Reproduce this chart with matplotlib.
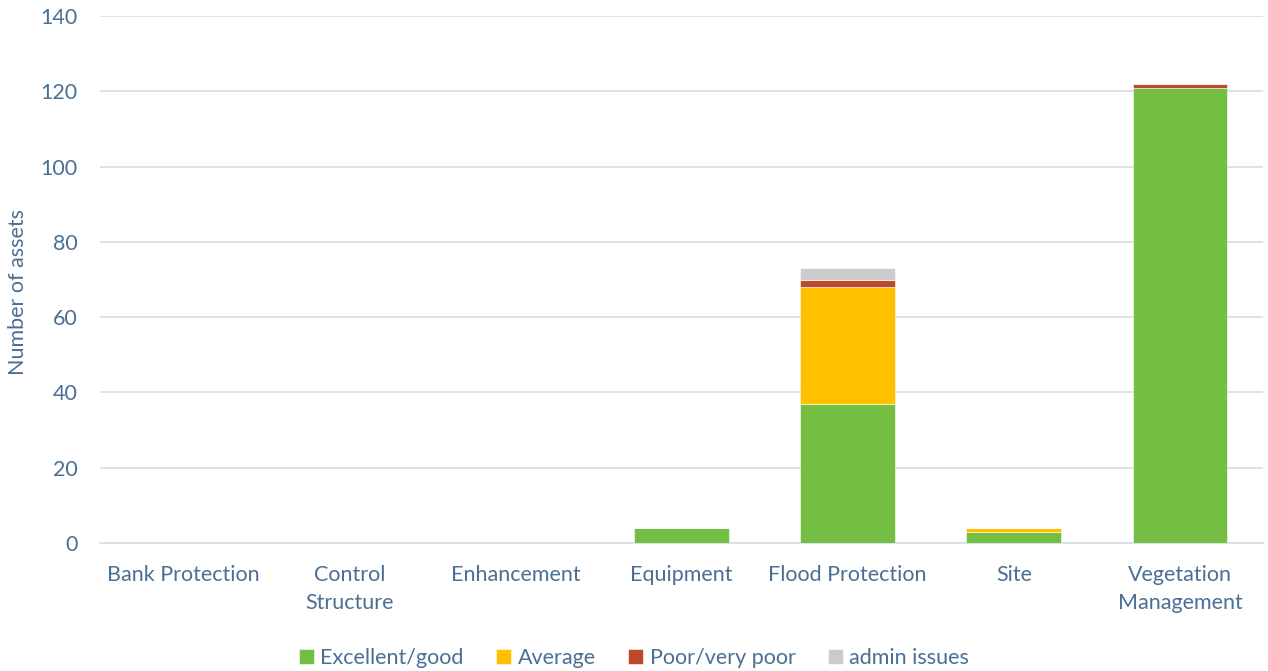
import numpy as np
import matplotlib
matplotlib.use("Agg")
import matplotlib.pyplot as plt

categories = ["Bank Protection", "Control\nStructure", "Enhancement", "Equipment",
              "Flood Protection", "Site", "Vegetation\nManagement"]
series_names = ["Excellent/good", "Average", "Poor/very poor", "admin issues"]
excellent = [0, 0, 0, 4, 37, 3, 121]
average = [0, 0, 0, 0, 31, 1, 0]
poor = [0, 0, 0, 0, 2, 0, 1]
admin = [0, 0, 0, 0, 3, 0, 0]

colours = ["#74BE44", "#FFC000", "#C0482A", "#CBCBCB"]
text_col = "#4A6F94"
grid_col = "#D6E0EA"
fs = 15.5

plt.rcParams['font.family'] = ['Lato', 'DejaVu Sans']

fig = plt.figure(figsize=(12.68, 6.71), dpi=100)
ax = fig.add_axes([100/1268, 128/671, 1163/1268, 527/671])

x = np.arange(len(categories))
bottom = np.zeros(len(categories))
handles = []
for name, vals, col in zip(series_names, [excellent, average, poor, admin], colours):
    vals = np.array(vals, dtype=float)
    b = ax.bar(x, vals, width=0.57, bottom=bottom, color=col, label=name,
               edgecolor="white", linewidth=0.4, zorder=3)
    handles.append(b)
    bottom += vals

ax.set_xlim(-0.5, len(categories) - 0.5)
ax.set_ylim(0, 140)
ax.set_yticks(np.arange(0, 141, 20))
ax.yaxis.grid(True, color=grid_col, linewidth=1.3, zorder=0)
ax.set_axisbelow(True)
for s in ["top", "right", "left"]:
    ax.spines[s].set_visible(False)
ax.spines["bottom"].set_color(grid_col)
ax.spines["bottom"].set_linewidth(1.3)
ax.tick_params(axis="both", length=0, labelsize=fs, colors=text_col)
ax.tick_params(axis="y", pad=16)
ax.tick_params(axis="x", pad=16)
ax.set_xticks(x)
ax.set_xticklabels(categories, linespacing=1.5)
ax.set_ylabel("Number of assets", fontsize=fs, color=text_col)
ax.yaxis.set_label_coords(-0.062, 0.476)

fig.legend(handles=handles, labels=series_names, loc="center", ncol=4,
           bbox_to_anchor=(0.5, 0.02), frameon=False, fontsize=fs,
           handlelength=0.7, handleheight=0.7, handletextpad=0.3,
           columnspacing=1.5, labelcolor=text_col)

fig.savefig("out.png", dpi=100)
